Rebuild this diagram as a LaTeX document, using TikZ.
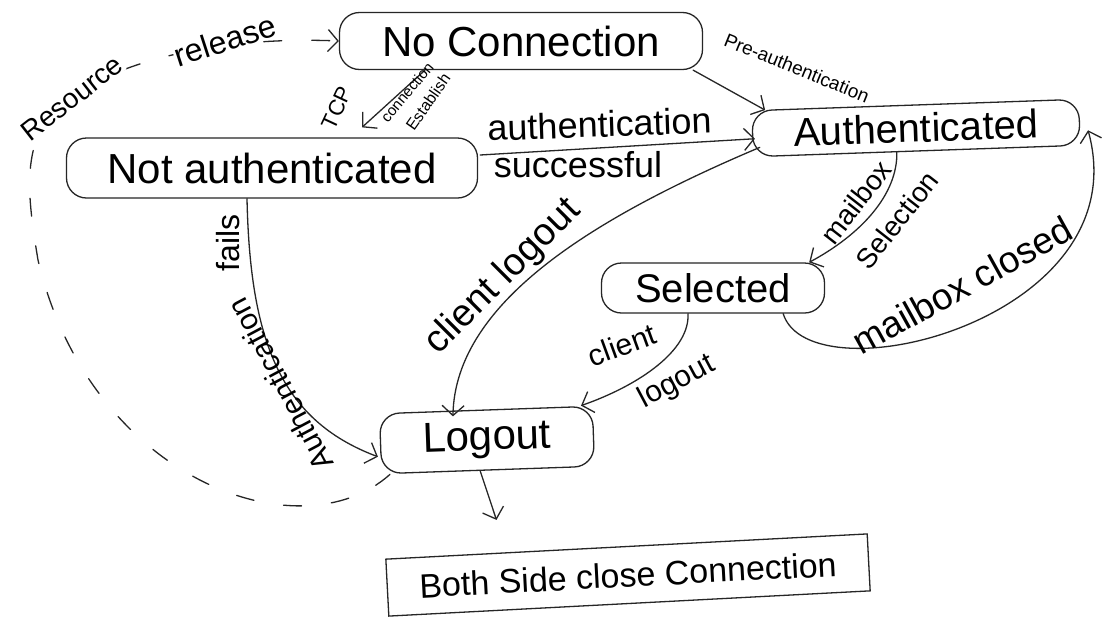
\documentclass[tikz,border=0pt]{standalone}
\usepackage{fontspec}
\setmainfont{Liberation Sans}
\usetikzlibrary{arrows.meta}
\newcommand\fsz[1]{\fontsize{#1}{#1}\selectfont}
\tikzset{
  pen/.style={draw=black!85, line width=1.3pt},
  state/.style={pen, rectangle, rounded corners=20pt, inner sep=0pt, text=black},
  arr/.style={pen, line cap=round, line join=round, -{Straight Barb[length=10pt,width=22pt]}},
  dasharr/.style={arr, dash pattern=on 18pt off 30pt},
  lbl/.style={inner sep=1pt, text=black},
}
\begin{document}
\begin{tikzpicture}[x=1pt,y=-1pt]
\fill[white] (0,0) rectangle (1115,619);
\useasboundingbox (0,0) rectangle (1115,619);

% states
\node[state, font=\fsz{42}, minimum width=363pt, minimum height=57pt] (nc) at (521,41) {No Connection};
\node[state, font=\fsz{42}, minimum width=411pt, minimum height=60pt] (na) at (272,168) {Not authenticated};
\node[state, font=\fsz{40}, minimum width=327pt, minimum height=46pt, rotate=2] (auth) at (916,128) {Authenticated};
\node[state, font=\fsz{40}, minimum width=223pt, minimum height=50pt] (sel) at (713,288) {Selected};
\node[state, font=\fsz{42}, minimum width=213pt, minimum height=60pt, rotate=2] (lo) at (487,440) {Logout};
\node[pen, rectangle, inner sep=0pt, font=\fsz{34}, minimum width=482pt, minimum height=57pt, rotate=3] (close) at (628,575) {Both Side close Connection};

% resource release: logout back to no connection
\draw[dasharr] ([xshift=9pt]lo.south west) .. controls (300,555) and (90,480) .. (38,260)
  .. controls (28,200) and (25,165) .. (40,130)
  .. controls (75,70) and (200,35) .. (nc.west);
\node[lbl, fill=white, rotate=38, font=\fsz{28}] (lres) at (72,98) {Resource};
\node[lbl, fill=white, rotate=18, font=\fsz{32}] (lrel) at (225,40) {release};

% TCP connection establish
\draw[arr] ([xshift=-96pt]nc.south) -- ([xshift=90pt,yshift=10pt]na.north);
\node[lbl, rotate=65, font=\fsz{22}] (ltcp) at (337,108) {TCP};
\node[lbl, rotate=50, font=\fsz{15}] (lcon) at (407,92) {connection};
\node[lbl, rotate=55, font=\fsz{16}] (lest) at (428,102) {Establish};

% pre-authentication
\draw[arr] ([xshift=-10pt]nc.south east) -- ([xshift=14pt]auth.north west);
\node[lbl, rotate=-22, font=\fsz{19}] (lpre) at (797,68) {Pre-authentication};

% authentication successful
\draw[arr] ([xshift=2pt,yshift=13pt]na.east) -- ([xshift=3pt,yshift=-5pt]auth.west);
\node[lbl, anchor=base, rotate=2, font=\fsz{36}] (lauth) at (600,137) {authentication};
\node[lbl, anchor=base, font=\fsz{36}] (lsucc) at (578,177) {successful};

% client logout from authenticated
\draw[arr] ([xshift=7pt,yshift=10pt]auth.south west) .. controls (600,215) and (455,300) .. ([xshift=-33pt,yshift=-7pt]lo.north);
\node[lbl, anchor=base, rotate=45, font=\fsz{38}] (lcl1) at (510,284) {client logout};

% mailbox selection
\draw[arr] ([xshift=-20pt]auth.south) .. controls (898,195) and (860,235) .. ([xshift=-16pt]sel.north east);
\node[lbl, rotate=52, font=\fsz{28}] (lmb) at (856,202) {mailbox};
\node[lbl, rotate=52, font=\fsz{28}] (lsl) at (897,220) {Selection};

% mailbox closed
\draw[arr] ([xshift=-42pt]sel.south east) .. controls (810,400) and (1140,320) .. ([xshift=8pt,yshift=-8pt]auth.east);
\node[lbl, rotate=29, font=\fsz{37}] (lmc) at (962,285) {mailbox closed};

% client logout from selected
\draw[arr] ([xshift=-25pt]sel.south) .. controls (690,350) and (640,385) .. ([xshift=-12pt]lo.north east);
\node[lbl, rotate=20, font=\fsz{30}] (lcl2) at (622,345) {client};
\node[lbl, rotate=28, font=\fsz{30}] (llo2) at (677,382) {logout};

% authentication fails
\draw[arr] ([xshift=-25pt]na.south) .. controls (250,340) and (280,420) .. ([xshift=-2pt,yshift=-13pt]lo.west);
\node[lbl, rotate=90, font=\fsz{32}] (lfail) at (228,243) {fails};
\node[lbl, rotate=118, font=\fsz{30}] (lauf) at (280,385) {Authentication};

% logout to closing
\draw[arr] ([xshift=-8pt]lo.south) -- ([xshift=-130pt,yshift=26pt]close.north);
\end{tikzpicture}
\end{document}
